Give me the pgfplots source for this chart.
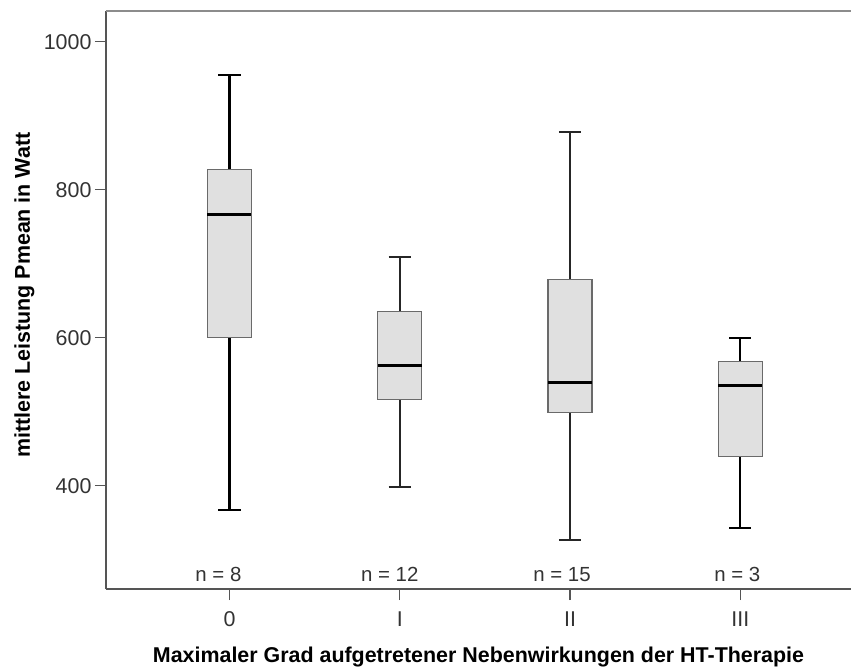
\documentclass[border=0pt]{standalone}
\usepackage{fontspec}
\setmainfont{Liberation Sans}
\usepackage{pgfplots}
\pgfplotsset{compat=1.18}

\definecolor{boxfill}{HTML}{E0E0E0}
\definecolor{boxedge}{HTML}{6A6A6A}
\definecolor{axisgray}{HTML}{555555}
\definecolor{framegray}{HTML}{8C8C8C}
\definecolor{ticktext}{HTML}{333333}

\tikzset{nlab/.style={font=\fontsize{20.5}{24}\selectfont, text=ticktext, anchor=base}}

\begin{document}
\begin{tikzpicture}
\begin{axis}[
  scale only axis,
  width=745bp, height=577.5bp,
  xmin=-0.725, xmax=3.65,
  ymin=260.4, ymax=1041,
  axis x line*=bottom, axis y line*=left,
  axis line style={axisgray, line width=1.5bp, -},
  xtick={0,1,2,3},
  xticklabels={0,I,II,III},
  ytick={400,600,800,1000},
  tick align=outside,
  major tick length=11bp,
  tick style={axisgray, line width=1.2bp},
  /pgf/number format/assume math mode=true,
  /pgf/number format/1000 sep={},
  tick label style={font=\fontsize{21.5}{25}\selectfont, text=ticktext},
  xticklabel style={yshift=-8bp},
  xlabel={Maximaler Grad aufgetretener Nebenwirkungen der HT-Therapie},
  ylabel={mittlere Leistung Pmean in Watt},
  label style={font=\bfseries\fontsize{21.5}{25}\selectfont, text=black},
  xlabel style={at={(axis description cs:0.5,0)}, anchor=base, yshift=-73bp},
  ylabel style={at={(axis description cs:0,0.509)}, anchor=base, yshift=76bp},
  clip=false,
  box/.style={fill=boxfill, draw=boxedge, line width=1.2bp},
  median/.style={black, line width=3bp},
  whisk/.style={line width=#1, line cap=butt},
]
% ---- Grade 0: whiskers 367/955, quartiles 600/827, median 766
\addplot[whisk=2.3bp, black] coordinates {(0,600) (0,367)};
\addplot[whisk=2.3bp, black] coordinates {(0,827) (0,955)};
\addplot[whisk=2.3bp, black] coordinates {(-0.065,367) (0.065,367)};
\addplot[whisk=2.3bp, black] coordinates {(-0.065,955) (0.065,955)};
\addplot[box] coordinates {(-0.129,600) (0.129,600) (0.129,827) (-0.129,827)} -- cycle;
\addplot[median] coordinates {(-0.129,766) (0.129,766)};
% ---- Grade I: whiskers 398/709, quartiles 517/636, median 563
\addplot[whisk=1.6bp, black!85] coordinates {(1,517) (1,398)};
\addplot[whisk=1.6bp, black!85] coordinates {(1,636) (1,709)};
\addplot[whisk=1.6bp, black!85] coordinates {(0.935,398) (1.065,398)};
\addplot[whisk=1.6bp, black!85] coordinates {(0.935,709) (1.065,709)};
\addplot[box] coordinates {(0.871,517) (1.129,517) (1.129,636) (0.871,636)} -- cycle;
\addplot[median] coordinates {(0.871,563) (1.129,563)};
% ---- Grade II: whiskers 327/878, quartiles 499/679, median 540
\addplot[whisk=1.6bp, black!85] coordinates {(2,499) (2,327)};
\addplot[whisk=1.6bp, black!85] coordinates {(2,679) (2,878)};
\addplot[whisk=1.6bp, black!85] coordinates {(1.935,327) (2.065,327)};
\addplot[whisk=1.6bp, black!85] coordinates {(1.935,878) (2.065,878)};
\addplot[box] coordinates {(1.871,499) (2.129,499) (2.129,679) (1.871,679)} -- cycle;
\addplot[median] coordinates {(1.871,540) (2.129,540)};
% ---- Grade III: whiskers 343/600, quartiles 439/568, median 536
\addplot[whisk=2.3bp, black] coordinates {(3,439) (3,343)};
\addplot[whisk=2.3bp, black] coordinates {(3,568) (3,600)};
\addplot[whisk=2.3bp, black] coordinates {(2.935,343) (3.065,343)};
\addplot[whisk=2.3bp, black] coordinates {(2.935,600) (3.065,600)};
\addplot[box] coordinates {(2.871,439) (3.129,439) (3.129,568) (2.871,568)} -- cycle;
\addplot[median] coordinates {(2.871,536) (3.129,536)};

% group sizes
\node[nlab, xshift=-11bp] at (axis cs:0,271) {n = 8};
\node[nlab, xshift=-10bp] at (axis cs:1,271) {n = 12};
\node[nlab, xshift=-8bp]  at (axis cs:2,271) {n = 15};
\node[nlab, xshift=-3bp]  at (axis cs:3,271) {n = 3};
% top frame line
\draw[framegray, line width=2bp] (rel axis cs:0,1) -- (rel axis cs:1,1);
\end{axis}
% page area: fixed margins around the plot frame
\pgfresetboundingbox
\path[use as bounding box] (current axis.south west) ++(-106bp,-78bp)
  rectangle ([yshift=11.5bp]current axis.north east);
\end{tikzpicture}
\end{document}
